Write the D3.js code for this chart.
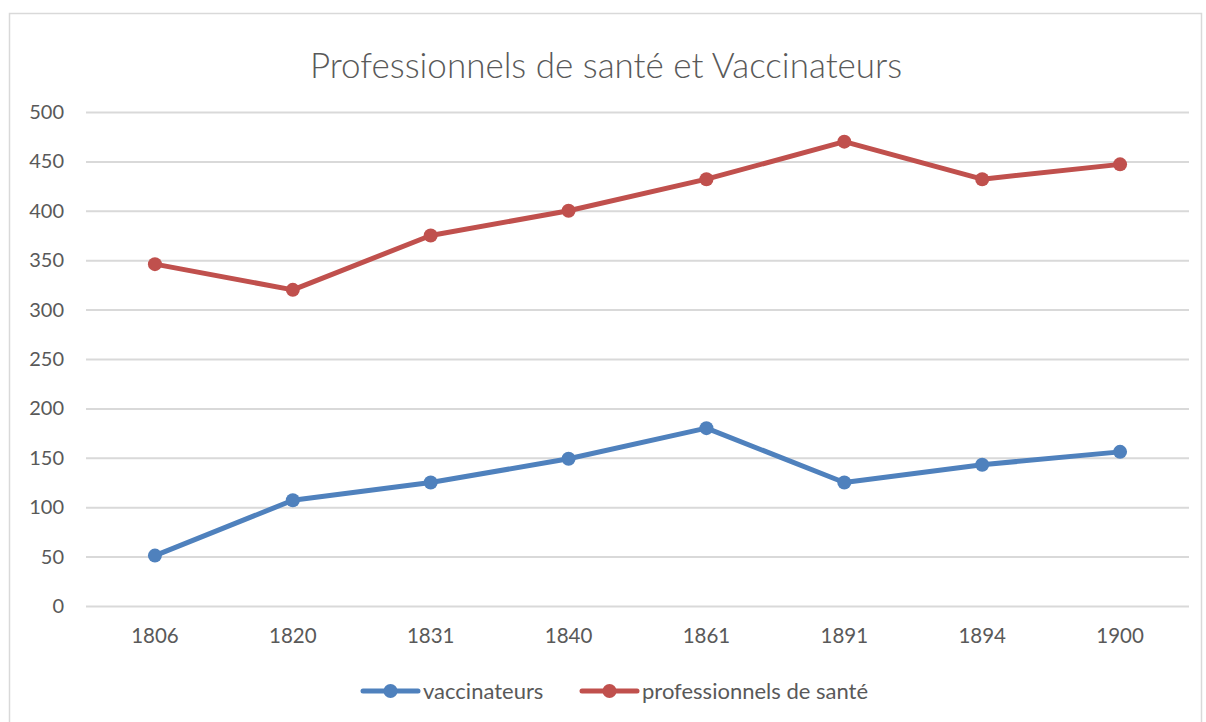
<!DOCTYPE html>
<html><head><meta charset="utf-8">
<script src="https://cdn.jsdelivr.net/npm/d3@7"></script>
<style>body{margin:0;background:#fff}svg{display:block}</style>
</head><body>
<svg id="c" width="1206" height="722"></svg>
<script>
const categories = ["1806","1820","1831","1840","1861","1891","1894","1900"];
const vaccinateurs = [51,107,125,149,180,125,143,156];
const professionnels = [346,320,375,400,432,470,432,447];
const seriesNames = ["vaccinateurs","professionnels de santé"];
const seriesColors = ["#4f81bd","#c0504d"];
const yTicks = [0,50,100,150,200,250,300,350,400,450,500];
const title = "Professionnels de santé et Vaccinateurs";

const svg = d3.select("#c");
const font = "Lato, 'Open Sans', sans-serif";
svg.append("rect").attr("x",9.5).attr("y",13.5).attr("width",1192).attr("height",720)
  .attr("fill","#fff").attr("stroke","#d9d9d9").attr("stroke-width",1.5);

const x = d3.scaleBand().domain(categories).range([86,1189]);
const y = d3.scaleLinear().domain([0,500]).range([606,112]);

svg.append("text").attr("x",606).attr("y",78).attr("text-anchor","middle")
  .attr("font-family",font).attr("font-weight",300).attr("font-size",35).attr("fill","#595959").text(title);

const gy = svg.append("g").attr("transform","translate(86,0)")
  .call(d3.axisLeft(y).tickValues(yTicks).tickSize(-1103).tickPadding(22));
gy.select(".domain").remove();
gy.selectAll("line").attr("stroke","#d9d9d9").attr("stroke-width",2);
gy.selectAll("text").attr("font-family",font).attr("font-size",20).attr("fill","#595959");

const gx = svg.append("g").attr("transform","translate(0,606)")
  .call(d3.axisBottom(x).tickSize(0).tickPadding(22));
gx.select(".domain").remove();
gx.selectAll("text").attr("font-family",font).attr("font-size",20.5).attr("fill","#595959");

const data = [vaccinateurs, professionnels];
const line = d3.line().x((d,i)=>x(categories[i])+x.bandwidth()/2).y(d=>y(d));
data.forEach((vals,k)=>{
  svg.append("path").attr("d",line(vals)).attr("fill","none")
    .attr("stroke",seriesColors[k]).attr("stroke-width",5).attr("stroke-linejoin","round");
  svg.selectAll(null).data(vals).enter().append("circle")
    .attr("cx",(d,i)=>x(categories[i])+x.bandwidth()/2).attr("cy",d=>y(d)).attr("r",7)
    .attr("fill",seriesColors[k]);
});

const legendX = [363, 582];
seriesNames.forEach((n,k)=>{
  const g = svg.append("g").attr("transform",`translate(${legendX[k]},691)`);
  g.append("line").attr("x1",0).attr("x2",55).attr("stroke",seriesColors[k]).attr("stroke-width",5).attr("stroke-linecap","round");
  g.append("circle").attr("cx",27.5).attr("r",7).attr("fill",seriesColors[k]);
  g.append("text").attr("x",60).attr("y",8).attr("font-family",font).attr("font-size",22)
    .attr("fill","#595959").text(n);
});
</script>
</body></html>
